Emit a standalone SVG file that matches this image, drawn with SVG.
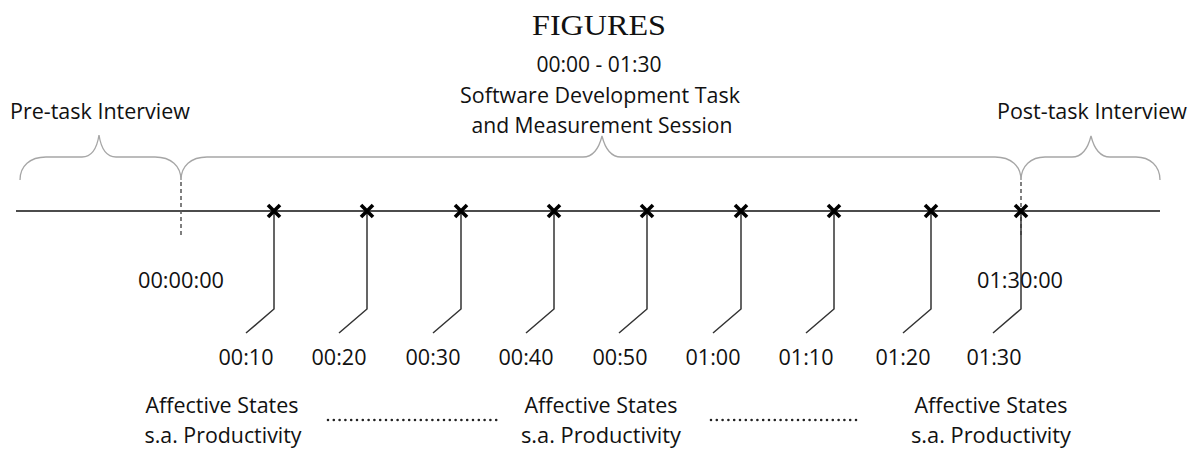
<svg xmlns="http://www.w3.org/2000/svg" width="1198" height="451" viewBox="0 0 1198 451">
<style>
.t{font-family:"Open Sans","Noto Sans","Liberation Sans",sans-serif;font-size:21.5px;fill:#111}
.c{text-anchor:middle}
.brace{fill:none;stroke:#a6a6a6;stroke-width:1.3}
.tick{fill:none;stroke:#333;stroke-width:1.5}
.x{stroke:#000;stroke-width:3.6;stroke-linecap:butt}
.dash{stroke:#555;stroke-width:1.5;stroke-dasharray:4 3}
.dots{stroke:#222;stroke-width:2.6;stroke-linecap:round;stroke-dasharray:0 5.8}
</style>
<rect width="1198" height="451" fill="#fff"/>
<g id="title">
<text x="599" y="35" text-anchor="middle" font-family="Liberation Serif,serif" font-size="29" textLength="134" lengthAdjust="spacingAndGlyphs" fill="#111">FIGURES</text>
</g>
<g id="session-label">
<text class="t c" x="599" y="72" textLength="125" lengthAdjust="spacingAndGlyphs">00:00 - 01:30</text>
<text class="t c" x="600" y="103" textLength="280" lengthAdjust="spacingAndGlyphs">Software Development Task</text>
<text class="t c" x="602" y="133" textLength="261" lengthAdjust="spacingAndGlyphs">and Measurement Session</text>
</g>
<g id="pre-task">
<text class="t" x="10" y="119" textLength="180" lengthAdjust="spacingAndGlyphs">Pre-task Interview</text>
<path class="brace" d="M20,180 C20,166 30,157 46,157 L82,157 C92,157 97,148 99,135 C101,148 106,157 116,157 L155,157 C171,157 181,166 181,180"/>
</g>
<g id="session-brace">
<path class="brace" d="M181,180 C181,166 191,157 207,157 L583,157 C593,157 599,148 602,136 C605,148 611,157 621,157 L995,157 C1011,157 1021,166 1021,180"/>
</g>
<g id="post-task">
<text class="t" x="997" y="119" textLength="190" lengthAdjust="spacingAndGlyphs">Post-task Interview</text>
<path class="brace" d="M1021,180 C1021,166 1031,157 1045,157 L1072,157 C1082,157 1088,148 1091,136 C1094,148 1100,157 1110,157 L1136,157 C1150,157 1160,166 1160,180"/>
</g>
<g id="connectors">
<line x1="16" y1="211" x2="1160" y2="211" stroke="#111" stroke-width="1.5"/>
<line class="dash" x1="181" y1="182" x2="181" y2="236"/>
<line class="dash" x1="1021" y1="182" x2="1021" y2="236"/>
<path class="tick" d="M274,211 V309 L246,333"/>
<path class="tick" d="M367,211 V309 L339,333"/>
<path class="tick" d="M461,211 V309 L433,333"/>
<path class="tick" d="M554,211 V309 L526,333"/>
<path class="tick" d="M647,211 V309 L619,333"/>
<path class="tick" d="M741,211 V309 L713,333"/>
<path class="tick" d="M834,211 V309 L806,333"/>
<path class="tick" d="M931,211 V309 L903,333"/>
<path class="tick" d="M1021,211 V309 L993,333"/>
<line class="dots" x1="328" y1="420" x2="500" y2="420"/>
<line class="dots" x1="711" y1="420" x2="858" y2="420"/>
</g>
<g id="marks">
<path class="x" d="M268,205 l12,12 M280,205 l-12,12"/>
<path class="x" d="M361,205 l12,12 M373,205 l-12,12"/>
<path class="x" d="M455,205 l12,12 M467,205 l-12,12"/>
<path class="x" d="M548,205 l12,12 M560,205 l-12,12"/>
<path class="x" d="M641,205 l12,12 M653,205 l-12,12"/>
<path class="x" d="M735,205 l12,12 M747,205 l-12,12"/>
<path class="x" d="M828,205 l12,12 M840,205 l-12,12"/>
<path class="x" d="M925,205 l12,12 M937,205 l-12,12"/>
<path class="x" d="M1015,205 l12,12 M1027,205 l-12,12"/>
</g>
<g id="start-end">
<text class="t" x="138" y="288" textLength="86" lengthAdjust="spacingAndGlyphs">00:00:00</text>
<text class="t" x="977" y="288" textLength="86" lengthAdjust="spacingAndGlyphs">01:30:00</text>
</g>
<g id="time-labels">
<text class="t c" x="246" y="365" textLength="55" lengthAdjust="spacingAndGlyphs">00:10</text>
<text class="t c" x="339" y="365" textLength="55" lengthAdjust="spacingAndGlyphs">00:20</text>
<text class="t c" x="433" y="365" textLength="55" lengthAdjust="spacingAndGlyphs">00:30</text>
<text class="t c" x="526" y="365" textLength="55" lengthAdjust="spacingAndGlyphs">00:40</text>
<text class="t c" x="620" y="365" textLength="55" lengthAdjust="spacingAndGlyphs">00:50</text>
<text class="t c" x="713" y="365" textLength="55" lengthAdjust="spacingAndGlyphs">01:00</text>
<text class="t c" x="806" y="365" textLength="55" lengthAdjust="spacingAndGlyphs">01:10</text>
<text class="t c" x="903" y="365" textLength="55" lengthAdjust="spacingAndGlyphs">01:20</text>
<text class="t c" x="994" y="365" textLength="55" lengthAdjust="spacingAndGlyphs">01:30</text>
</g>
<g id="affect-1">
<text class="t c" x="222" y="413" textLength="153" lengthAdjust="spacingAndGlyphs">Affective States</text>
<text class="t c" x="223" y="443" textLength="157" lengthAdjust="spacingAndGlyphs">s.a. Productivity</text>
</g>
<g id="affect-2">
<text class="t c" x="601" y="413" textLength="153" lengthAdjust="spacingAndGlyphs">Affective States</text>
<text class="t c" x="601" y="443" textLength="160" lengthAdjust="spacingAndGlyphs">s.a. Productivity</text>
</g>
<g id="affect-3">
<text class="t c" x="991" y="413" textLength="153" lengthAdjust="spacingAndGlyphs">Affective States</text>
<text class="t c" x="991" y="443" textLength="160" lengthAdjust="spacingAndGlyphs">s.a. Productivity</text>
</g>
</svg>
